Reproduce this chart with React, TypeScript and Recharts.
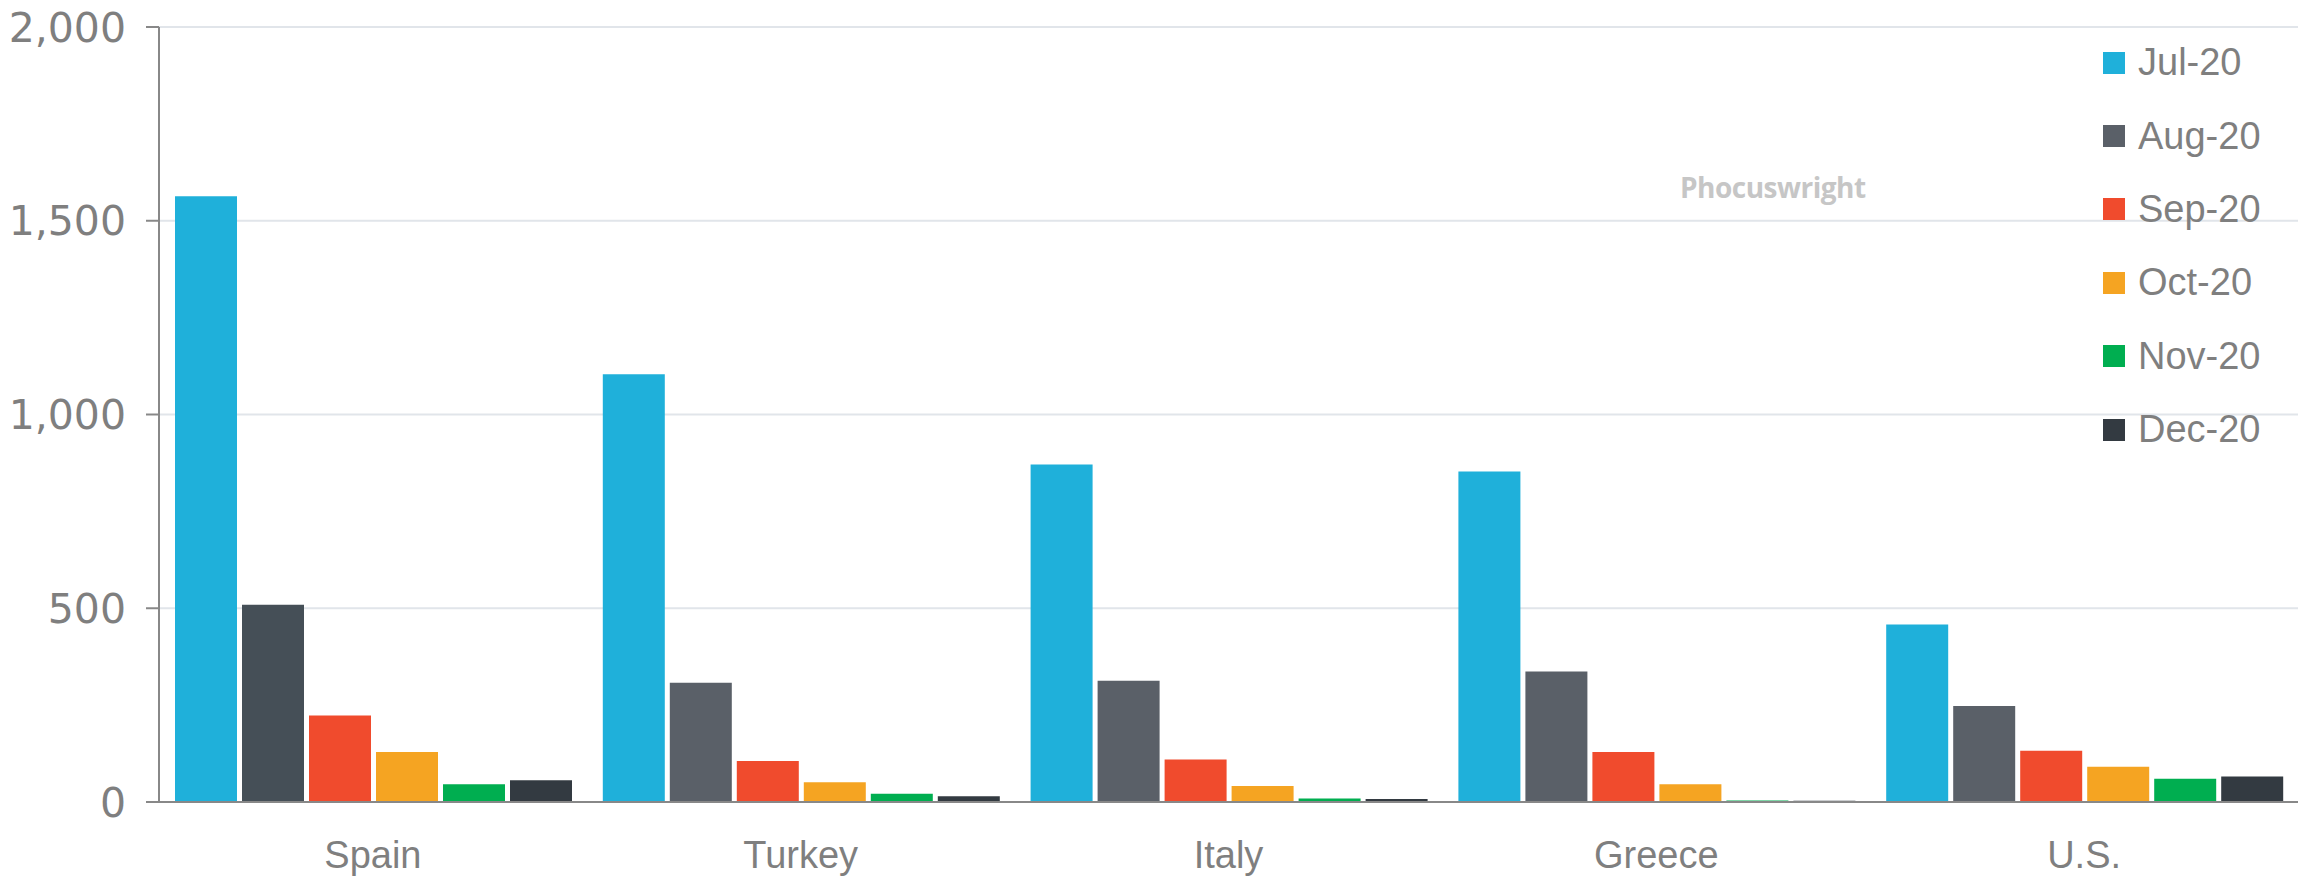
import { Bar, BarChart, CartesianGrid, Cell, XAxis, YAxis } from 'recharts'

const countries = ['Spain', 'Turkey', 'Italy', 'Greece', 'U.S.']
const months = ['Jul-20', 'Aug-20', 'Sep-20', 'Oct-20', 'Nov-20', 'Dec-20']

const jul = [1563, 1104, 871, 853, 458]
const aug = [509, 308, 313, 337, 248]
const sep = [223, 106, 110, 129, 132]
const oct = [129, 51, 41, 46, 91]
const nov = [46, 21, 9, 4, 60]
const dec = [56, 15, 8, 3, 66]

const yTicks = [0, 500, 1000, 1500, 2000]

const colors = ['#1fb0da', '#5a6068', '#f04b2d', '#f5a422', '#00ae50', '#333a41']
const spainAug = '#454f57'

const series = [jul, aug, sep, oct, nov, dec]

const data = countries.map((name, i) => {
  const row: any = { name }
  months.forEach((m, j) => {
    row[m] = series[j][i]
  })
  return row
})

const font = '"Liberation Sans", Arial, sans-serif'

export default function App() {
  return (
    <div style={{ position: 'absolute', left: 0, top: 0, width: 2310, height: 877, background: '#fff' }}>
      <BarChart
        width={2310}
        height={877}
        data={data}
        margin={{ top: 27, right: 12, bottom: 0, left: 0 }}
        barGap={5}
        barCategoryGap={16}
      >
        <CartesianGrid vertical={false} stroke="#e1e5ea" strokeWidth={2} />
        <XAxis
          dataKey="name"
          height={75}
          tickLine={false}
          axisLine={{ stroke: '#888', strokeWidth: 2 }}
          tickMargin={33}
          tick={{ fill: '#7f7f7f', fontSize: 38, fontFamily: font }}
        />
        <YAxis
          width={159}
          domain={[0, 2000]}
          ticks={yTicks}
          tickSize={13}
          tickMargin={20}
          tickFormatter={(v: number) => v.toLocaleString('en-US')}
          axisLine={{ stroke: '#888', strokeWidth: 2 }}
          tickLine={{ stroke: '#888', strokeWidth: 2 }}
          tick={{ fill: '#7f7f7f', fontSize: 41, fontFamily: '"DejaVu Sans", sans-serif' }}
        />
        {months.map((m, j) => (
          <Bar key={m} dataKey={m} fill={colors[j]} isAnimationActive={false}>
            {j === 1 &&
              data.map((d, i) => <Cell key={d.name} fill={i === 0 ? spainAug : colors[j]} />)}
          </Bar>
        ))}
      </BarChart>
      <div style={{ position: 'absolute', left: 2103, top: 26, fontFamily: font }}>
        {months.map((m, j) => (
          <div key={m} style={{ display: 'flex', alignItems: 'center', height: 73.4 }}>
            <div style={{ width: 22, height: 22, background: colors[j], marginRight: 13 }} />
            <span style={{ fontSize: 38, color: '#7f7f7f' }}>{m}</span>
          </div>
        ))}
      </div>
      <div
        style={{
          position: 'absolute',
          left: 1680,
          top: 168,
          fontFamily: '"Open Sans", sans-serif',
          fontWeight: 700,
          fontSize: 28,
          color: '#c6c6c6',
          letterSpacing: -0.5,
        }}
      >
        Phocuswright
      </div>
    </div>
  )
}
